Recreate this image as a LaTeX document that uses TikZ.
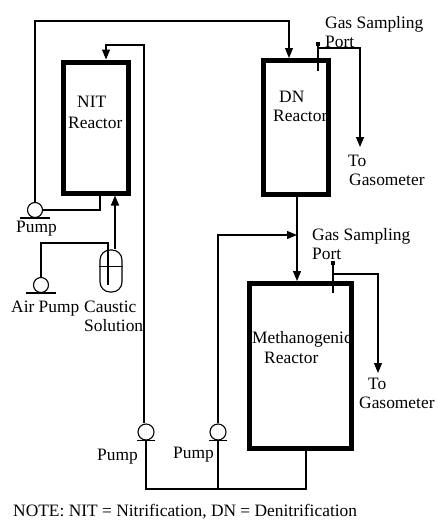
\documentclass[tikz,border=0pt]{standalone}
\usepackage{fontspec}
\setmainfont{Liberation Serif}
\usetikzlibrary{arrows.meta}
\tikzset{
	reactor/.style={draw, line width=5pt, inner sep=0pt},
	pump/.style={circle, draw, line width=1.1pt, minimum size=15pt, inner sep=0pt},
	pipe/.style={line width=1.2pt, line join=miter},
	flow/.style={pipe, -{Triangle[length=10pt,width=8pt]}},
	lbl/.style={anchor=base west, inner sep=0pt, font=\fontsize{17.4}{19}\selectfont}
}
\begin{document}
\begin{tikzpicture}[x=1pt, y=-1pt]
	\useasboundingbox (0,0) rectangle (437,520);
	% reactors
	\node[reactor, minimum width=65pt, minimum height=131pt] (NIT) at (96,127.5) {};
	\node[reactor, minimum width=65pt, minimum height=134pt] (DN) at (296,127.5) {};
	\node[reactor, minimum width=102pt, minimum height=165pt] (MR) at (300.5,366) {};
	% pumps and vessel
	\node[pump] (PA) at (35,210) {};
	\node[pump] (PB) at (41,285) {};
	\node[pump, minimum size=16pt] (PC) at (146,432) {};
	\node[pump, minimum size=16pt] (PD) at (218,432) {};
	\node[draw, line width=1.1pt, rounded corners=10pt, minimum width=22pt, minimum height=42pt, inner sep=0pt] (CS) at (111,271) {};
	\foreach \x in{PA,PB} \draw[pipe] ([xshift=-15pt]\x.south) -- ([xshift=15pt]\x.south);
	\foreach \x in{PC,PD} \draw[pipe] ([xshift=-9pt]\x.south) -- ([xshift=9pt]\x.south);
	\draw[line width=.9pt] ([yshift=5pt]CS.west) -- ([yshift=5pt]CS.east);
	% bends and ports
	\coordinate (T1) at (35,21);
	\coordinate (T2) at (289,21);
	\coordinate (R1) at (144,45);
	\coordinate (R2) at (106,45);
	\coordinate (GA) at (318,44);
	\coordinate (GB) at (318,71);
	\coordinate (GC) at (333,263);
	\coordinate (GD) at (333,293);
	\coordinate (AT) at (108,243);
	\coordinate (AE) at (108,285);
	\coordinate (SA) at (360,147);
	\coordinate (SB) at (378,373);
	\coordinate (BL) at (146,489);
	\coordinate (BR) at (306,489);
	% connectors
	\draw[flow] (PA.north) -- (T1) -- (T2) -- (T2 |- DN.north);
	\draw[pipe] (PA.east) -- (PA.east -| 100,0) -- (100,0 |- NIT.south);
	\draw[flow] (PC.north -| R1) -- (R1) -- (R2) -- (R2 |- NIT.north);
	\draw[flow, line width=1.6pt] (115,0 |- CS.north) -- (115,0 |- NIT.south);
	\draw[pipe, line width=1.8pt] (PB.north) -- (PB.north |- AT) -- (AT) -- (AE);
	\draw[flow] (PD.north) -- (218,235) -- (297,235);
	\draw[flow] (297,0 |- DN.south) -- (297,0 |- MR.north);
	\draw[pipe] (PC.south) -- (BL) -- (BR) -- (BR |- MR.south);
	\draw[pipe] (PD.south) -- (PD.south |- BL);
	\draw[pipe, line width=1.8pt] (GA) -- (GB);
	\draw[pipe, line width=1.8pt] (GC) -- (GD);
	\fill (GA) +(-2,-2) rectangle +(2,2);
	\fill (GC) +(-2,-2) rectangle +(2,2);
	\draw[flow] (318,48) -- (SA |- 0,48) -- (SA);
	\draw[flow] (333,274) -- (SB |- 0,274) -- (SB);
	% labels
	\node[lbl] (t1) at (77,107) {NIT};
	\node[lbl] (t2) at (68,128) {Reactor};
	\node[lbl] (t3) at (279,102) {DN};
	\node[lbl] (t4) at (273,121) {Reactor};
	\node[lbl] (t5) at (252,343) {Methanogenic};
	\node[lbl] (t6) at (264,363) {Reactor};
	\node[lbl] (t7) at (325,28) {Gas Sampling};
	\node[lbl] (t8) at (325,47) {Port};
	\node[lbl] (t9) at (312,240) {Gas Sampling};
	\node[lbl] (t10) at (312,259) {Port};
	\node[lbl] (t11) at (348,166) {To};
	\node[lbl] (t12) at (349,185) {Gasometer};
	\node[lbl] (t13) at (368,389) {To};
	\node[lbl] (t14) at (359,408) {Gasometer};
	\node[lbl] (t15) at (16,232) {Pump};
	\node[lbl] (t16) at (11,312) {Air Pump};
	\node[lbl] (t17) at (84,312) {Caustic};
	\node[lbl] (t18) at (84,331) {Solution};
	\node[lbl] (t19) at (97,460) {Pump};
	\node[lbl] (t20) at (173,458) {Pump};
	\node[lbl] (t21) at (13,516) {NOTE: NIT = Nitrification, DN = Denitrification};
\end{tikzpicture}
\end{document}
